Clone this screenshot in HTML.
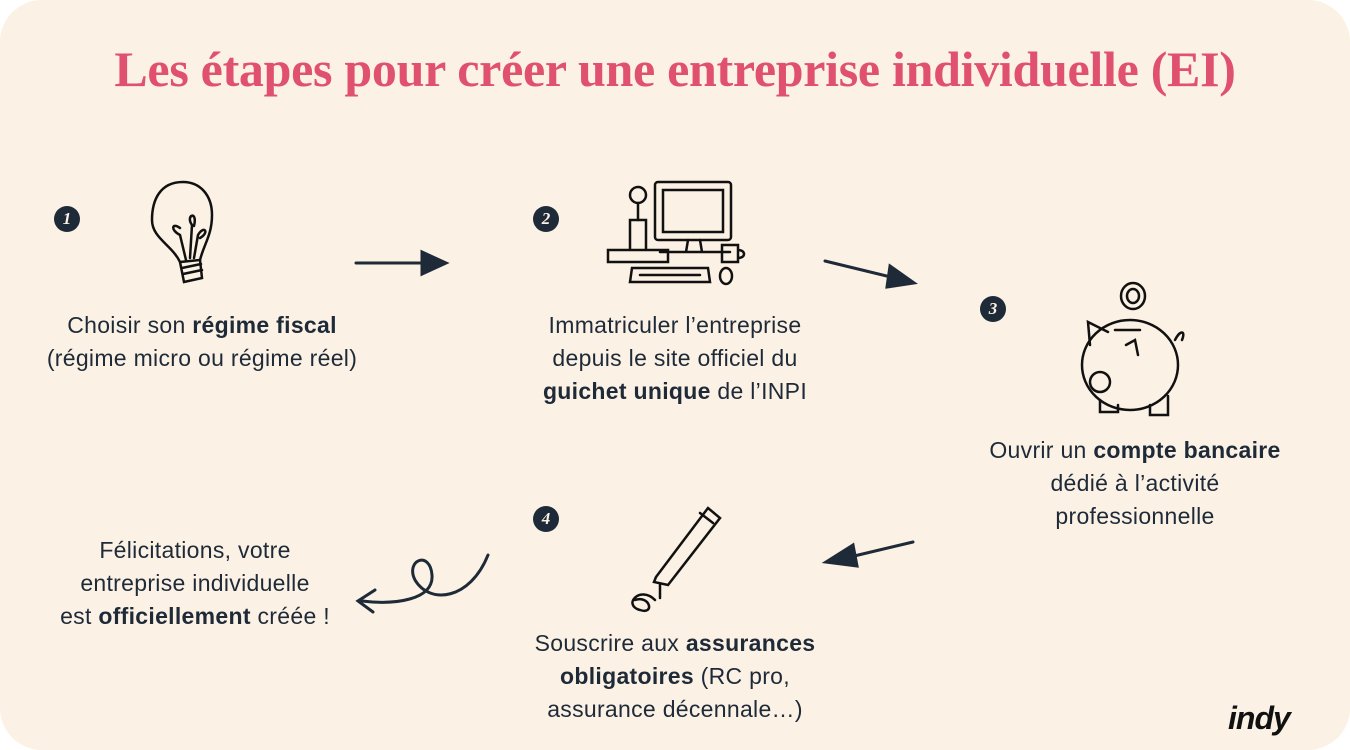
<!DOCTYPE html>
<html><head><meta charset="utf-8"><style>
html,body{margin:0;padding:0;background:#fff;}
#c{position:relative;width:1350px;height:750px;background:#fbf1e4;border-radius:42px;overflow:hidden;font-family:"Liberation Sans",sans-serif;color:#1e2a38;}
h1{position:absolute;left:0;width:1350px;top:40px;margin:0;text-align:center;font-family:"Liberation Serif",serif;font-weight:bold;font-size:50px;color:#e0506f;letter-spacing:-0.3px;}
.t{position:absolute;text-align:center;font-size:23px;line-height:33px;letter-spacing:0.3px;}
b{font-weight:bold;}
.n{position:absolute;width:26px;height:26px;border-radius:50%;background:#1e2a38;color:#fbf1e4;font:italic bold 17px/26px "Liberation Serif",serif;text-align:center;}
svg{position:absolute;left:0;top:0;}
.logo{position:absolute;left:1228px;top:700px;font:italic 900 32px "Liberation Sans",sans-serif;color:#111;letter-spacing:-1px;}
</style></head><body><div id="c">
<h1>Les étapes pour créer une entreprise individuelle (EI)</h1>
<div class="n" style="left:54px;top:206px">1</div>
<div class="n" style="left:533px;top:206px">2</div>
<div class="n" style="left:980px;top:296px">3</div>
<div class="n" style="left:533px;top:506px">4</div>
<div class="t" style="left:0px;width:404px;top:309px">Choisir son <b>régime fiscal</b><br>(régime micro ou régime réel)</div>
<div class="t" style="left:475px;width:400px;top:309px">Immatriculer l’entreprise<br>depuis le site officiel du<br><b>guichet unique</b> de l’INPI</div>
<div class="t" style="left:935px;width:400px;top:434px">Ouvrir un <b>compte bancaire</b><br>dédié à l’activité<br>professionnelle</div>
<div class="t" style="left:475px;width:400px;top:627px">Souscrire aux <b>assurances<br>obligatoires</b> (RC pro,<br>assurance décennale…)</div>
<div class="t" style="left:0px;width:390px;top:534px">Félicitations, votre<br>entreprise individuelle<br>est <b>officiellement</b> créée !</div>
<svg width="1350" height="750" fill="none" stroke="#1e2a38" stroke-width="3" stroke-linecap="round">
<path d="M356 263 H425"/><path d="M422 252 L446 263 L422 274Z" fill="#1e2a38"/>
<path d="M825 261 L895 278"/><path d="M890 266 L914 283 L887 287Z" fill="#1e2a38"/>
<path d="M913 542 L850 557"/><path d="M853 545 L826 562 L857 566Z" fill="#1e2a38"/>
<path d="M488 555 C470 600 430 605 415 580 C405 560 430 550 432 575 C434 600 395 605 362 601"/><path d="M375 590 L358 601 L373 612" />
<g stroke="#111" stroke-width="2.5">
<path d="M183 182 C160 182 152 200 152 220 C152 238 172 245 180 262 L200 260 C204 244 212 235 212 215 C212 195 200 182 183 182Z"/>
<path d="M180 262 L184 282 L202 278 L200 260 M182 268 L201 264 M183 274 L202 270"/>
<path d="M186 260 L180 235 C170 230 172 222 180 228 M190 258 L192 225 C185 215 198 210 194 226 M194 258 L198 235 C204 225 210 232 200 238"/>
<rect x="655" y="182" width="76" height="58" rx="3"/><rect x="663" y="190" width="60" height="42"/>
<path d="M688 240 L686 252 M700 240 L702 252 M660 252 H730"/>
<path d="M608 250 H668 V262 H608Z M630 220 H646 V250 H630Z"/><circle cx="638" cy="195" r="8"/><path d="M638 203 V220"/>
<path d="M632 268 H708 L710 282 H630Z M640 275 H700"/><ellipse cx="726" cy="276" rx="6" ry="8"/><path d="M722 245 H738 V262 H722Z M738 250 C746 250 746 258 738 258"/>
<ellipse cx="1130" cy="365" rx="48" ry="45"/><circle cx="1100" cy="382" r="10"/>
<path d="M1090 345 L1088 322 L1108 332 M1115 330 L1140 330 M1126 345 L1135 340 L1138 355 M1100 400 V412 H1118 V405 M1150 405 V415 H1168 V396 M1175 340 C1180 330 1186 330 1182 340"/>
<ellipse cx="1133" cy="296" rx="12" ry="13"/><ellipse cx="1133" cy="296" rx="6" ry="7"/>
<path d="M656 577 L708 508 L720 518 L668 585 L654 582Z M700 513 L713 523 M660 584 L660 598"/>
<path d="M655 600 C640 585 622 605 640 610 C655 615 650 595 635 600"/>
</g>
</svg>
<div class="logo">indy</div>
</div></body></html>
